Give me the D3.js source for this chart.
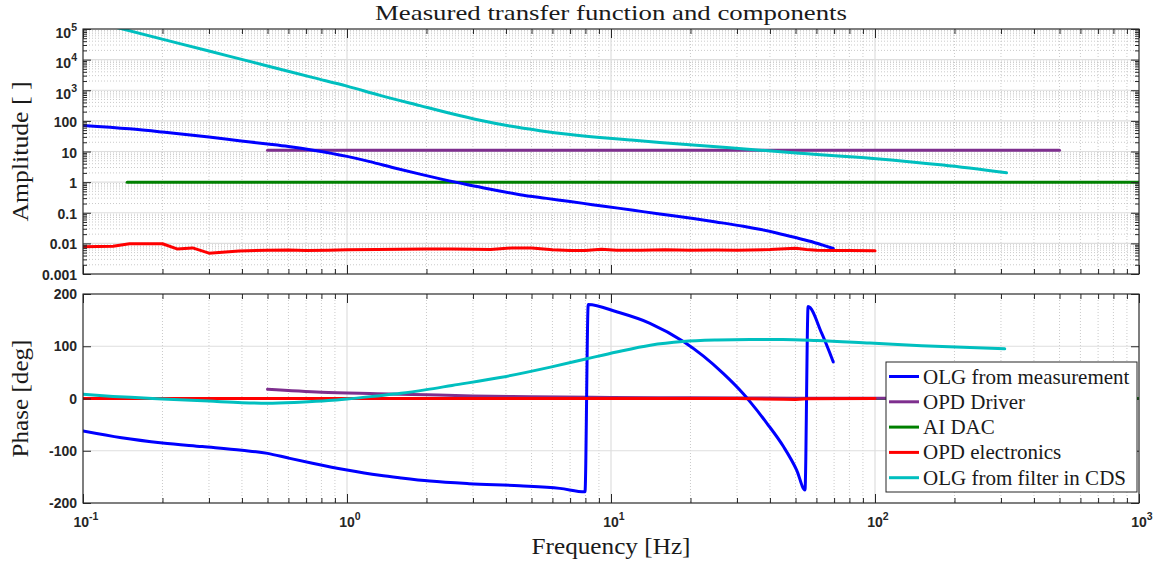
<!DOCTYPE html>
<html>
<head>
<meta charset="utf-8">
<script src="https://cdn.jsdelivr.net/npm/d3@7"></script>
<style>
  body { margin: 0; background: #fff; }
  svg text.tick-label { font-family: "Liberation Sans", Arial, sans-serif; font-weight: bold; fill: #262626; }
  svg text.serif { font-family: "Liberation Serif", "Times New Roman", serif; fill: #1a1a1a; }
</style>
</head>
<body>
<svg id="chart" width="1155" height="565"></svg>
<script>
// ---- Axis limits and tick labels ----
const freqDomain = [0.1, 1000];
const freqTickValues = [0.1, 1, 10, 100, 1000];
const freqTickExponents = ["-1", "0", "1", "2", "3"];

const ampDomain = [1e-3, 1e5];
const ampTickValues = [1e-3, 1e-2, 1e-1, 1, 10, 100, 1e3, 1e4, 1e5];
const ampTickBases = ["0.001", "0.01", "0.1", "1", "10", "100", "10", "10", "10"];
const ampTickExponents = ["", "", "", "", "", "", "3", "4", "5"];

const phaseDomain = [-200, 200];
const phaseTickValues = [-200, -100, 0, 100, 200];
const phaseTickLabels = ["-200", "-100", "0", "100", "200"];

// ---- Series ----
const seriesNames = ["OLG from measurement", "OPD Driver", "AI DAC", "OPD electronics", "OLG from filter in CDS"];
const seriesColors = ["#0000ff", "#7e2f8e", "#008000", "#ff0000", "#00bfbf"];

// OLG from measurement
const olgMeasAmpFreq = [0.1, 0.15, 0.2, 0.3, 0.39, 0.5, 0.6, 0.745, 1.0, 1.22, 1.5, 1.89, 2.3, 2.84, 3.5, 4.52, 5.7, 7.0, 8.5, 10.8, 13, 15.3, 20.5, 25, 31.7, 37, 42.4, 50, 56.7, 63, 69.5];
const olgMeasAmp = [70.8, 55.0, 43.2, 29.5, 22.6, 17.6, 14.5, 11.0, 6.92, 4.68, 2.95, 1.82, 1.23, 0.832, 0.589, 0.389, 0.295, 0.232, 0.184, 0.139, 0.111, 0.0912, 0.0646, 0.0501, 0.0363, 0.0282, 0.0219, 0.0155, 0.0117, 0.0089, 0.0068];
const olgMeasPhaseFreq = [0.1, 0.14, 0.2, 0.283, 0.4, 0.5, 0.6, 0.74, 1.0, 1.33, 1.6, 2.06, 2.9, 4.5, 6.4, 7.97, 8.2, 10.5, 14.05, 18.8, 22.4, 26.6, 31.7, 33.6, 38.9, 45.0, 50.5, 54.3, 55.8, 62.8, 69.5];
const olgMeasPhase = [-62, -75, -85, -92, -99, -105, -114, -124, -137, -147, -152, -158, -163, -167, -172, -178.5, 180, 166, 144, 109, 81, 48, 9, -6, -47, -92, -137, -175, 176, 125, 70];

// OPD Driver
const opdDriverAmpFreq = [0.5, 1, 10, 100, 500];
const opdDriverAmp = [11, 11, 11, 11, 11];
const opdDriverPhaseFreq = [0.5, 0.8, 1.3, 2, 3, 5, 10, 20, 50, 100, 200, 500];
const opdDriverPhase = [17.6, 12, 9.3, 7, 5, 3.5, 2, 1.2, 0.6, 0.4, 0.2, 0.1];

// AI DAC
const aiDacFreq = [0.147, 1, 10, 100, 1000];
const aiDacAmp = [1, 1, 1, 1, 1];
const aiDacPhase = [0, 0, 0, 0, 0];

// OPD electronics
const opdElecAmpFreq = [0.1, 0.13, 0.15, 0.2, 0.227, 0.26, 0.3, 0.39, 0.5, 0.6, 0.7, 0.85, 1.0, 1.3, 1.6, 2.0, 2.5, 3.0, 3.5, 4.2, 5.0, 6.0, 7.0, 8.0, 9.2, 10.5, 13, 16, 20, 25, 30, 40, 50, 55, 60, 70, 80, 100];
const opdElecAmp = [0.0078, 0.0081, 0.0097, 0.0097, 0.0066, 0.0071, 0.0048, 0.0056, 0.006, 0.0061, 0.0058, 0.006, 0.0062, 0.0063, 0.0064, 0.0065, 0.0066, 0.0064, 0.0063, 0.0071, 0.007, 0.0062, 0.0059, 0.0058, 0.0064, 0.006, 0.006, 0.0062, 0.006, 0.0061, 0.006, 0.0063, 0.0069, 0.0063, 0.006, 0.0059, 0.0059, 0.0057];
const opdElecPhaseFreq = [0.1, 0.3, 1, 3, 10, 30, 45, 50, 55, 100];
const opdElecPhase = [0, 0, 0, 0, 0, 0, -1.5, -2, -0.5, 0];

// OLG from filter in CDS
const olgCdsAmpFreq = [0.1, 0.138, 0.3, 0.5, 0.745, 1.0, 1.334, 1.89, 2.455, 3.19, 4.14, 5.38, 7.0, 9.08, 11.8, 15.3, 27.4, 49, 98.5, 181, 315];
const olgCdsAmp = [2.14e5, 1.05e5, 1.91e4, 6220, 2580, 1360, 681, 314, 177, 104.7, 67.6, 47.9, 36.1, 28.8, 23.8, 19.8, 13.6, 9.08, 5.96, 3.6, 2.01];
const olgCdsPhaseFreq = [0.1, 0.13, 0.17, 0.2, 0.3, 0.4, 0.5, 0.66, 0.85, 1.0, 1.3, 1.6, 2.0, 2.5, 3.8, 5.9, 8.1, 10.5, 14.1, 18.7, 25.2, 33.6, 44.8, 60.3, 95.7, 150, 310];
const olgCdsPhase = [8, 4, 1, -1, -5, -8, -9, -7, -4, -1, 5, 10, 17, 25, 40, 60, 76, 89, 102, 109, 112, 113, 113, 111, 106, 101, 95];

const zip = (a, b) => a.map((v, i) => [v, b[i]]);

// draw order inside each panel (index into seriesNames / seriesColors)
const ampSeries = [
  { idx: 2, data: zip(aiDacFreq, aiDacAmp), smooth: false },
  { idx: 1, data: zip(opdDriverAmpFreq, opdDriverAmp), smooth: false },
  { idx: 0, data: zip(olgMeasAmpFreq, olgMeasAmp), smooth: true },
  { idx: 3, data: zip(opdElecAmpFreq, opdElecAmp), smooth: false },
  { idx: 4, data: zip(olgCdsAmpFreq, olgCdsAmp), smooth: true }
];
const phaseSeries = [
  { idx: 2, data: zip(aiDacFreq, aiDacPhase), smooth: false },
  { idx: 1, data: zip(opdDriverPhaseFreq, opdDriverPhase), smooth: true },
  { idx: 0, data: zip(olgMeasPhaseFreq, olgMeasPhase), smooth: true },
  { idx: 3, data: zip(opdElecPhaseFreq, opdElecPhase), smooth: false },
  { idx: 4, data: zip(olgCdsPhaseFreq, olgCdsPhase), smooth: true }
];

// ---- Layout ----
const W = 1155, H = 565;
const plotLeft = 83, plotRight = 1139;
const ampTop = 29, ampBottom = 274;
const phaseTop = 294, phaseBottom = 503;
const axisColor = "#262626";

const svg = d3.select("#chart");
svg.append("rect").attr("width", W).attr("height", H).attr("fill", "#fff");

const x = d3.scaleLog().domain(freqDomain).range([plotLeft, plotRight]);
const yAmp = d3.scaleLog().domain(ampDomain).range([ampBottom, ampTop]);
const yPhase = d3.scaleLinear().domain(phaseDomain).range([phaseBottom, phaseTop]);

const isDecade = v => Math.abs(Math.log10(v) - Math.round(Math.log10(v))) < 1e-9;
const xMinor = x.ticks().filter(v => !isDecade(v));
const yAmpMinor = yAmp.ticks().filter(v => !isDecade(v));

const defs = svg.append("defs");
function clip(id, top, bottom) {
  defs.append("clipPath").attr("id", id)
    .append("rect").attr("x", plotLeft).attr("y", top)
    .attr("width", plotRight - plotLeft).attr("height", bottom - top);
}
clip("clip-amp", ampTop, ampBottom);
clip("clip-phase", phaseTop, phaseBottom);

function vGrid(g, top, bottom) {
  g.selectAll("line.vminor").data(xMinor).join("line")
    .attr("x1", d => x(d)).attr("x2", d => x(d)).attr("y1", top).attr("y2", bottom)
    .attr("stroke", "#bdbdbd").attr("stroke-width", 0.8).attr("stroke-dasharray", "1,2");
  g.selectAll("line.vmajor").data(freqTickValues).join("line")
    .attr("x1", d => x(d)).attr("x2", d => x(d)).attr("y1", top).attr("y2", bottom)
    .attr("stroke", "#dedede").attr("stroke-width", 1.2);
}
function hGrid(g, y, values, cls, color, dash) {
  g.selectAll("line." + cls).data(values).join("line").attr("class", cls)
    .attr("x1", plotLeft).attr("x2", plotRight).attr("y1", d => y(d)).attr("y2", d => y(d))
    .attr("stroke", color).attr("stroke-width", dash ? 0.8 : 1.2).attr("stroke-dasharray", dash || null);
}

function frameAxes(top, bottom, y, yMajor, yMinorVals) {
  const g = svg.append("g");
  const strip = s => s.call(a => a.select(".domain").remove()).selectAll("line").attr("stroke", axisColor);
  // x ticks, bottom and top, pointing inward
  strip(g.append("g").attr("transform", `translate(0,${bottom})`)
    .call(d3.axisBottom(x).tickValues(freqTickValues).tickSizeInner(-9).tickSizeOuter(0).tickFormat("")));
  strip(g.append("g").attr("transform", `translate(0,${bottom})`)
    .call(d3.axisBottom(x).tickValues(xMinor).tickSizeInner(-5).tickSizeOuter(0).tickFormat("")));
  strip(g.append("g").attr("transform", `translate(0,${top})`)
    .call(d3.axisTop(x).tickValues(freqTickValues).tickSizeInner(-9).tickSizeOuter(0).tickFormat("")));
  strip(g.append("g").attr("transform", `translate(0,${top})`)
    .call(d3.axisTop(x).tickValues(xMinor).tickSizeInner(-5).tickSizeOuter(0).tickFormat("")));
  // y ticks, left and right
  strip(g.append("g").attr("transform", `translate(${plotLeft},0)`)
    .call(d3.axisLeft(y).tickValues(yMajor).tickSizeInner(-8).tickSizeOuter(0).tickFormat("")));
  strip(g.append("g").attr("transform", `translate(${plotRight},0)`)
    .call(d3.axisRight(y).tickValues(yMajor).tickSizeInner(-8).tickSizeOuter(0).tickFormat("")));
  if (yMinorVals) {
    strip(g.append("g").attr("transform", `translate(${plotLeft},0)`)
      .call(d3.axisLeft(y).tickValues(yMinorVals).tickSizeInner(-4).tickSizeOuter(0).tickFormat("")));
    strip(g.append("g").attr("transform", `translate(${plotRight},0)`)
      .call(d3.axisRight(y).tickValues(yMinorVals).tickSizeInner(-4).tickSizeOuter(0).tickFormat("")));
  }
  g.append("rect").attr("x", plotLeft).attr("y", top)
    .attr("width", plotRight - plotLeft).attr("height", bottom - top)
    .attr("fill", "none").attr("stroke", axisColor).attr("stroke-width", 1.1);
}

function drawSeries(list, y, clipId) {
  const g = svg.append("g").attr("clip-path", `url(#${clipId})`);
  list.forEach(s => {
    const line = d3.line().x(d => x(d[0])).y(d => y(d[1]))
      .curve(s.smooth ? d3.curveMonotoneX : d3.curveLinear);
    g.append("path").datum(s.data).attr("d", line)
      .attr("fill", "none").attr("stroke", seriesColors[s.idx])
      .attr("stroke-width", 3).attr("stroke-linejoin", "round").attr("stroke-linecap", "round");
  });
}

// ---- Amplitude panel ----
const gridAmp = svg.append("g");
hGrid(gridAmp, yAmp, yAmpMinor, "hminor", "#bdbdbd", "1,2");
vGrid(gridAmp, ampTop, ampBottom);
hGrid(gridAmp, yAmp, ampTickValues, "hmajor", "#dedede", null);
drawSeries(ampSeries, yAmp, "clip-amp");
frameAxes(ampTop, ampBottom, yAmp, ampTickValues, yAmpMinor);

svg.append("g").selectAll("text").data(ampTickValues).join("text")
  .attr("class", "tick-label").attr("font-size", 14).attr("text-anchor", "end")
  .attr("x", plotLeft - 6)
  .attr("y", (d, i) => yAmp(d) + (ampTickExponents[i] ? 8.5 : 6))
  .each(function (d, i) {
    const t = d3.select(this);
    t.append("tspan").text(ampTickBases[i]);
    if (ampTickExponents[i]) t.append("tspan").attr("dy", -7).attr("font-size", 10.5).text(ampTickExponents[i]);
  });

// ---- Phase panel ----
const gridPhase = svg.append("g");
vGrid(gridPhase, phaseTop, phaseBottom);
hGrid(gridPhase, yPhase, phaseTickValues, "hmajor", "#dedede", null);
drawSeries(phaseSeries, yPhase, "clip-phase");
frameAxes(phaseTop, phaseBottom, yPhase, phaseTickValues, null);

svg.append("g").selectAll("text").data(phaseTickValues).join("text")
  .attr("class", "tick-label").attr("font-size", 14).attr("text-anchor", "end")
  .attr("x", plotLeft - 6).attr("y", d => yPhase(d) + 5)
  .text((d, i) => phaseTickLabels[i]);

svg.append("g").selectAll("text").data(freqTickValues).join("text")
  .attr("class", "tick-label").attr("font-size", 14).attr("text-anchor", "middle")
  .attr("x", d => x(d) + 3).attr("y", phaseBottom + 24)
  .each(function (d, i) {
    const t = d3.select(this);
    t.append("tspan").text("10");
    t.append("tspan").attr("dy", -7).attr("font-size", 10.5).text(freqTickExponents[i]);
  });

// ---- Titles ----
svg.append("text").attr("class", "serif").attr("font-size", 22)
  .attr("x", (plotLeft + plotRight) / 2).attr("y", 20).attr("text-anchor", "middle")
  .attr("textLength", 472).attr("lengthAdjust", "spacingAndGlyphs")
  .text("Measured transfer function and components");

svg.append("text").attr("class", "serif").attr("font-size", 24)
  .attr("x", (plotLeft + plotRight) / 2).attr("y", 554).attr("text-anchor", "middle")
  .attr("textLength", 159).attr("lengthAdjust", "spacingAndGlyphs")
  .text("Frequency [Hz]");

svg.append("text").attr("class", "serif").attr("font-size", 24)
  .attr("transform", `translate(28,${(ampTop + ampBottom) / 2}) rotate(-90)`)
  .attr("text-anchor", "middle")
  .attr("textLength", 140).attr("lengthAdjust", "spacingAndGlyphs")
  .text("Amplitude [ ]");

svg.append("text").attr("class", "serif").attr("font-size", 24)
  .attr("transform", `translate(28,${(phaseTop + phaseBottom) / 2}) rotate(-90)`)
  .attr("text-anchor", "middle")
  .attr("textLength", 118).attr("lengthAdjust", "spacingAndGlyphs")
  .text("Phase [deg]");

// ---- Legend ----
const legendW = 251, legendH = 130;
const legend = svg.append("g")
  .attr("transform", `translate(${plotRight - 2 - legendW},${phaseBottom - 11 - legendH})`);
legend.append("rect").attr("width", legendW).attr("height", legendH)
  .attr("fill", "#fff").attr("stroke", axisColor).attr("stroke-width", 1);
const rows = legend.selectAll("g.row").data(seriesNames).join("g")
  .attr("transform", (d, i) => `translate(0,${14.5 + i * 25.3})`);
rows.append("line").attr("x1", 3).attr("x2", 33).attr("y1", 0).attr("y2", 0)
  .attr("stroke", (d, i) => seriesColors[i]).attr("stroke-width", 3);
rows.append("text").attr("class", "serif").attr("font-size", 21)
  .attr("x", 37).attr("y", 7).text(d => d);
</script>
</body>
</html>
